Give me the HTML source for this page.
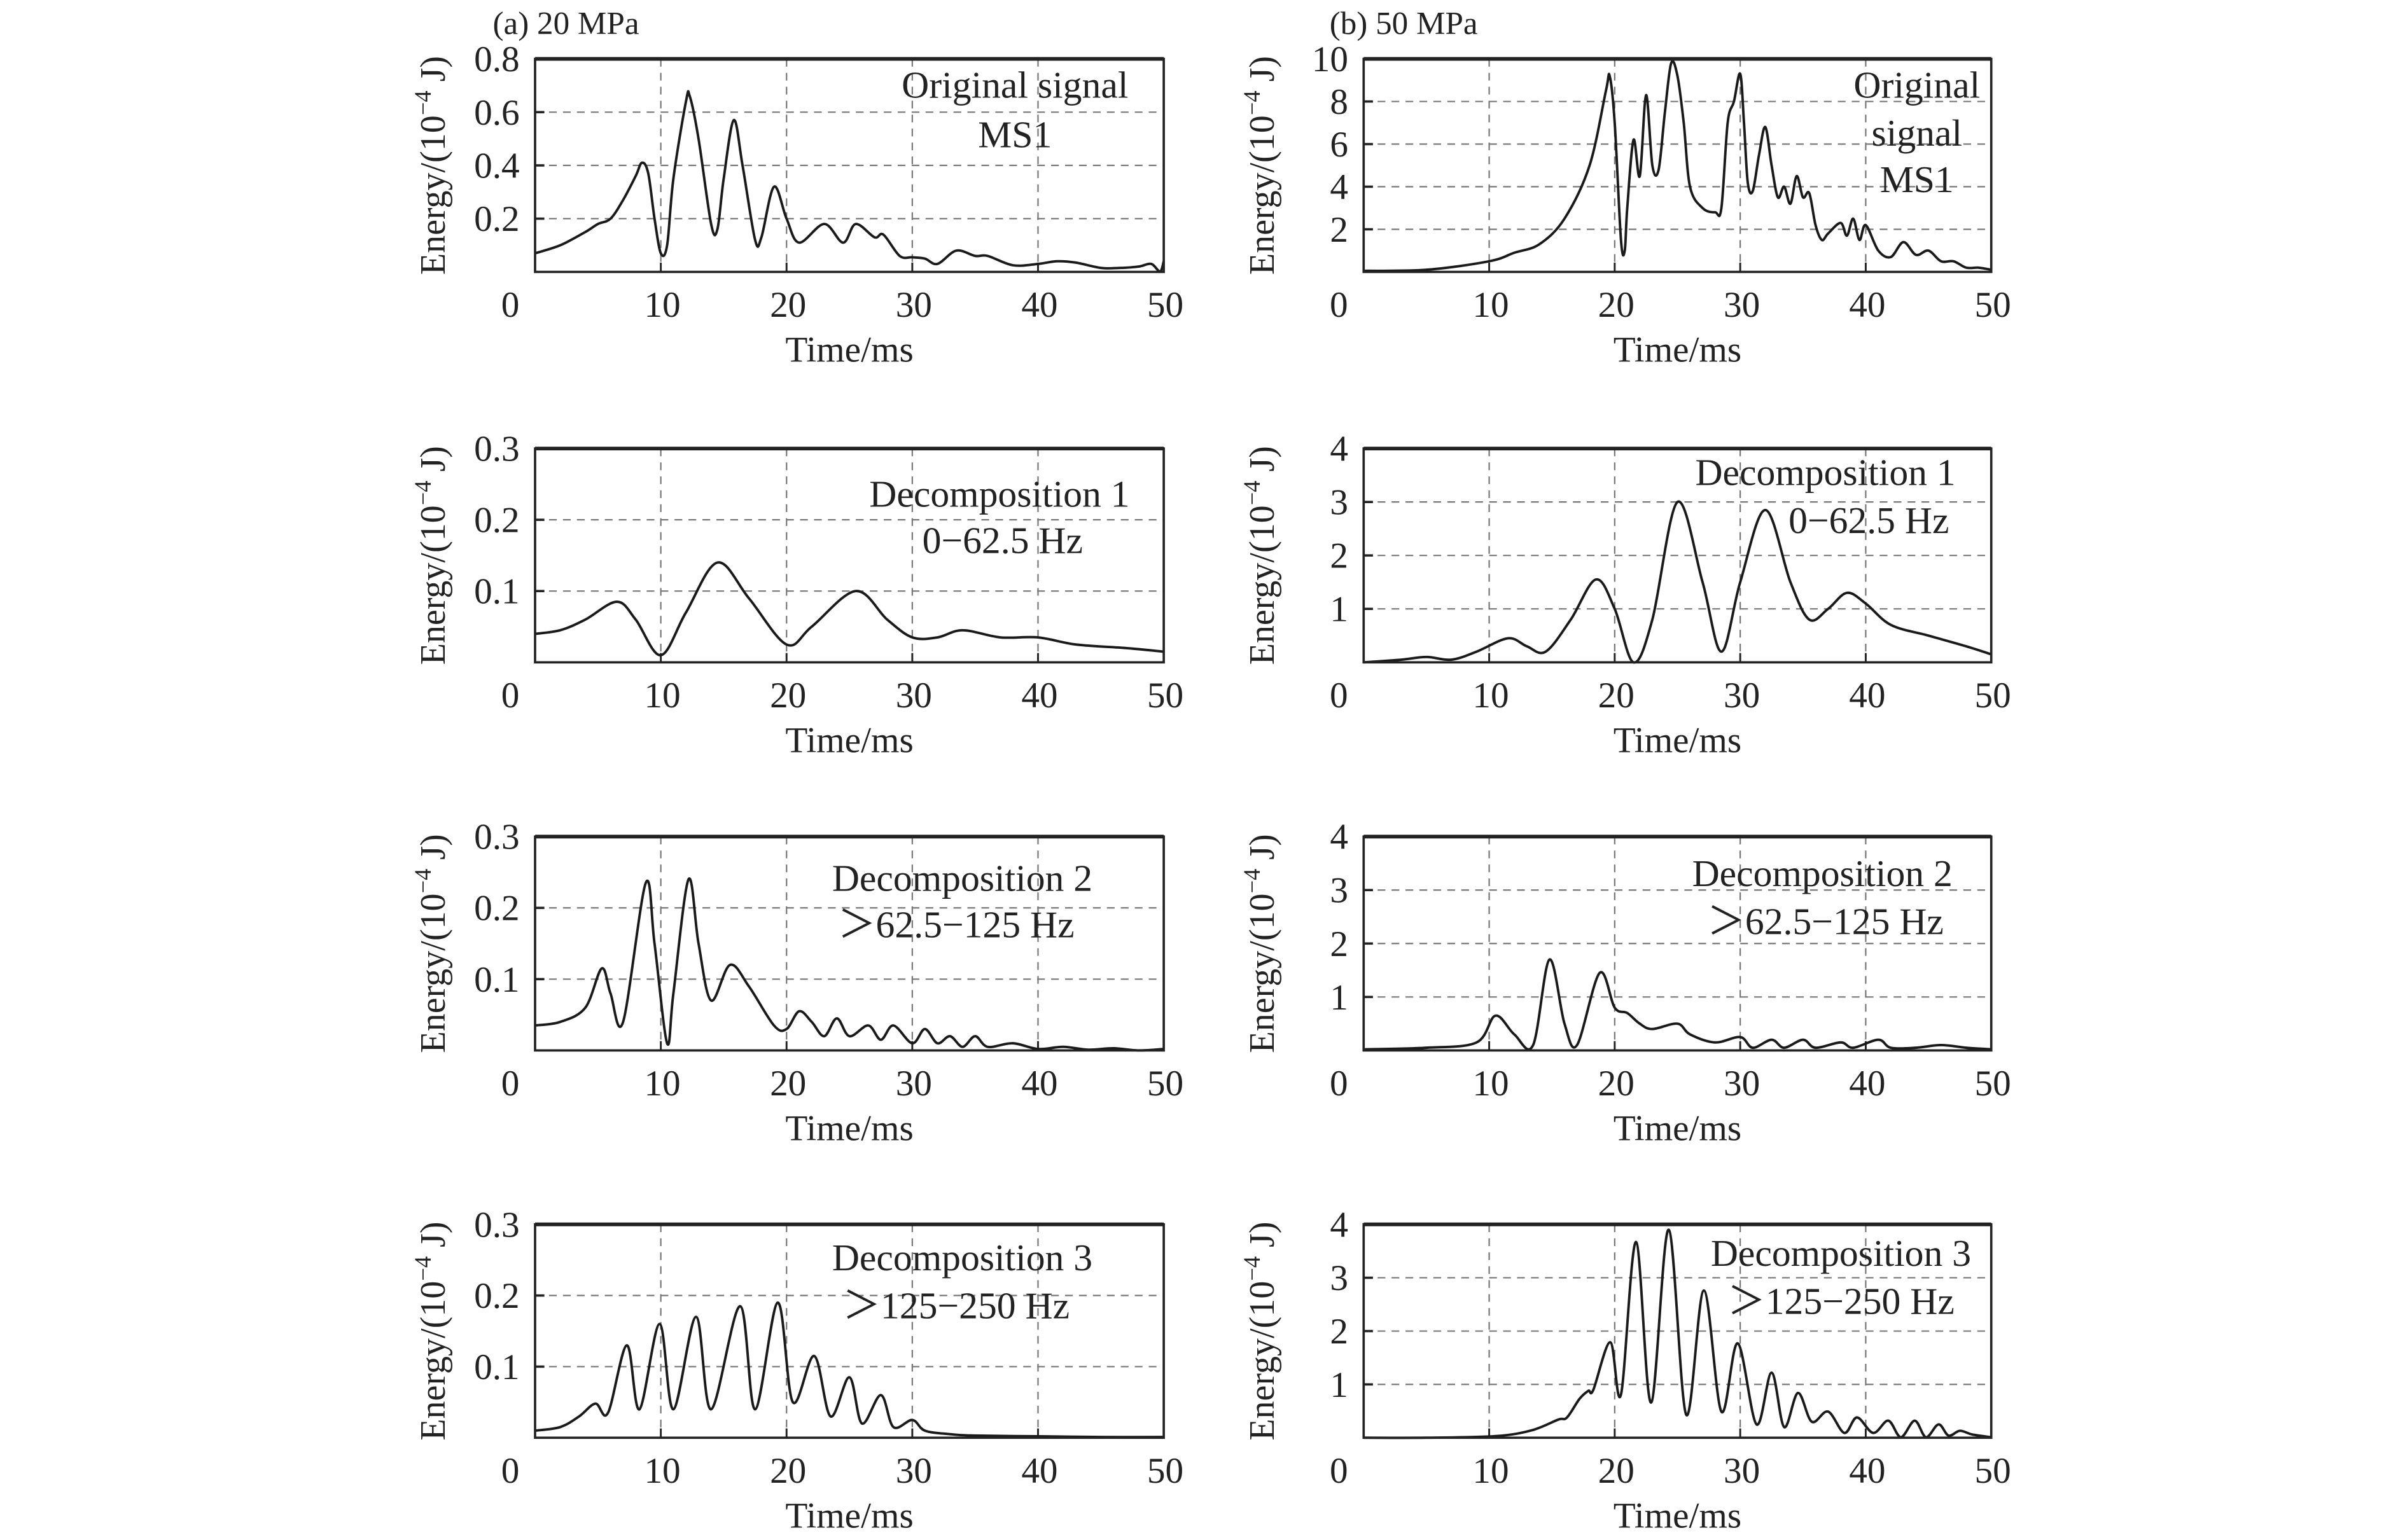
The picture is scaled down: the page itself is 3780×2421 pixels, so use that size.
<!DOCTYPE html>
<html><head><meta charset="utf-8"><style>
html,body{margin:0;padding:0;background:#fff;}
svg{display:block;font-family:"Liberation Serif",serif;}
</style></head><body>
<svg id="fig" width="3780" height="2421" viewBox="0 0 1552 994" xmlns="http://www.w3.org/2000/svg"></svg>
<script>
// ---- data (time in ms, energy in 1e-4 J) ----
const tA1=[0,2,4,5,6,7,8,8.5,9,9.5,10,10.5,11,12,12.3,13,14,14.5,15,15.8,16.5,17.5,18,19,20,21,23,24.5,25.5,27,27.7,29,30,31,32,33.5,35,36,38,40,41.5,43,45,46.5,48,49,49.7,50];
const vA1=[0.07,0.10,0.15,0.18,0.20,0.27,0.36,0.41,0.37,0.2,0.07,0.1,0.35,0.64,0.66,0.5,0.18,0.16,0.35,0.57,0.4,0.12,0.13,0.32,0.2,0.11,0.18,0.11,0.18,0.13,0.14,0.06,0.055,0.05,0.03,0.08,0.06,0.06,0.025,0.03,0.04,0.035,0.015,0.015,0.02,0.03,0.002,0.04];
const tB1=[0,5,10,12,14,16,18,19.3,19.6,20,20.5,20.8,21,21.5,22,22.5,23,23.5,24,24.5,25,25.5,26,27,28,28.5,29,29.5,30,30.3,30.6,31,31.5,32,32.5,33,33.5,34,34.5,35,35.5,36,36.5,37,38,38.5,39,39.5,40,41,42,43,44,45,46,47,48,49,50];
const vB1=[0.05,0.1,0.5,0.9,1.3,2.5,5,8.5,9.2,7,1.5,1,3,6.2,4.5,8.3,5,4.8,7.5,9.8,9.2,7,4,3,2.8,3,7,8,9.3,7,4.2,3.8,5.5,6.8,5,3.5,4,3.2,4.5,3.5,3.7,2.2,1.5,1.8,2.3,1.7,2.5,1.5,2.2,1,0.7,1.4,0.8,1,0.5,0.5,0.2,0.2,0.1];
const tA2=[0,2,4,6.5,8,10,12,14.5,17,20,22,25.5,28,30,32,34,37,40,43,47,50];
const vA2=[0.04,0.045,0.06,0.085,0.06,0.01,0.07,0.14,0.09,0.025,0.05,0.1,0.06,0.035,0.035,0.045,0.035,0.035,0.025,0.02,0.015];
const tB2=[0,3,5,7,9,11.5,13,14.5,16.5,18.5,20,21.5,23,25,27,28.5,30,32,34,35.5,37,38.5,40,42,45,48,50];
const vB2=[0,0.05,0.1,0.05,0.2,0.45,0.3,0.2,0.8,1.55,1,0,0.8,3,1.5,0.2,1.5,2.85,1.5,0.8,1,1.3,1.1,0.7,0.5,0.3,0.15];
const tA3=[0,2,4,5.3,6,7,8.8,9.5,10.5,11,12.2,13,14,15.5,17,19,20,21,22,23,24,25,26.5,27.5,28.5,30,31,32,33,34,35,36,38,40,42,44,46,48,50];
const vA3=[0.035,0.04,0.06,0.115,0.08,0.04,0.235,0.15,0.01,0.08,0.24,0.15,0.07,0.12,0.09,0.035,0.03,0.055,0.04,0.02,0.045,0.02,0.035,0.015,0.035,0.01,0.03,0.01,0.02,0.005,0.02,0.005,0.01,0.002,0.005,0.001,0.003,0,0.002];
const tB3=[0,5,9,10.5,12,13.5,14.8,16,17,18.8,20,21,22,23,25,26,28,30,31,32.5,33.5,35,36,38,39,41,42,44,46,48,50];
const vB3=[0.02,0.05,0.15,0.65,0.3,0.1,1.7,0.5,0.1,1.45,0.8,0.7,0.5,0.4,0.5,0.3,0.15,0.25,0.05,0.2,0.05,0.2,0.05,0.15,0.05,0.2,0.05,0.05,0.1,0.05,0.02];
const tA4=[0,2,3.5,4.8,5.8,7.3,8.3,9.9,11,12.8,14,16.3,17.5,19.3,20.5,22.2,23.5,25,26,27.5,28.5,30,31,33,35,40,45,50];
const vA4=[0.01,0.015,0.03,0.048,0.035,0.13,0.04,0.16,0.04,0.17,0.04,0.185,0.04,0.19,0.05,0.115,0.03,0.085,0.02,0.06,0.015,0.025,0.01,0.005,0.003,0.002,0.001,0.001];
const tB4=[0,5,10.5,13.4,15.5,16.2,17.2,17.9,18.3,19.65,20.5,21.7,22.9,24.3,25.7,27.1,28.5,29.8,31.3,32.5,33.5,34.6,35.7,37,38.3,39.3,40.6,41.8,42.8,43.9,44.8,45.8,46.6,47.5,48.5,50];
const vB4=[0,0,0.03,0.14,0.34,0.38,0.73,0.88,0.9,1.79,0.81,3.67,0.66,3.9,0.43,2.76,0.49,1.77,0.25,1.22,0.2,0.84,0.3,0.49,0.09,0.38,0.09,0.32,0.01,0.32,0.01,0.25,0.04,0.13,0.06,0.01];
const xTicks=[0,10,20,30,40,50];
const yTicksA1=[0.2,0.4,0.6,0.8], yLabA1=["0.2","0.4","0.6","0.8"];
const yTicksA=[0.1,0.2,0.3], yLabA=["0.1","0.2","0.3"];
const yTicksB1=[2,4,6,8,10], yLabB1=["2","4","6","8","10"];
const yTicksB=[1,2,3,4], yLabB=["1","2","3","4"];

const NS="http://www.w3.org/2000/svg";
const svg=document.getElementById('fig');
function mk(tag,attrs,parent){const e=document.createElementNS(NS,tag);for(const k in attrs)e.setAttribute(k,attrs[k]);(parent||svg).appendChild(e);return e;}

const cols=[{x0:345.3,x1:751,ylab:287,id:'a'},{x0:880,x1:1285,ylab:822,id:'b'}];
const rows=[[38,175.5],[289.5,427.5],[540,678],[790.3,928]];
const panels=[
 {c:0,r:0,t:tA1,v:vA1,ymax:0.8,yt:yTicksA1,yl:yLabA1,ann:[["Original signal",655,63],["MS1",655,95]]},
 {c:1,r:0,t:tB1,v:vB1,ymax:10,yt:yTicksB1,yl:yLabB1,ann:[["Original",1237,63],["signal",1237,94],["MS1",1237,124]]},
 {c:0,r:1,t:tA2,v:vA2,ymax:0.3,yt:yTicksA,yl:yLabA,ann:[["Decomposition 1",645,327],["0−62.5 Hz",647,357]]},
 {c:1,r:1,t:tB2,v:vB2,ymax:4,yt:yTicksB,yl:yLabB,ann:[["Decomposition 1",1178,313],["0−62.5 Hz",1206,344]]},
 {c:0,r:2,t:tA3,v:vA3,ymax:0.3,yt:yTicksA,yl:yLabA,ann:[["Decomposition 2",621,575],["＞62.5−125 Hz",617,605]]},
 {c:1,r:2,t:tB3,v:vB3,ymax:4,yt:yTicksB,yl:yLabB,ann:[["Decomposition 2",1176,572],["＞62.5−125 Hz",1178,603]]},
 {c:0,r:3,t:tA4,v:vA4,ymax:0.3,yt:yTicksA,yl:yLabA,ann:[["Decomposition 3",621,820],["＞125−250 Hz",617,851]]},
 {c:1,r:3,t:tB4,v:vB4,ymax:4,yt:yTicksB,yl:yLabB,ann:[["Decomposition 3",1188,817],["＞125−250 Hz",1188,848]]}
];

const t1=mk('text',{x:318,y:22,'font-size':21,fill:'#222'});t1.textContent='(a) 20 MPa';


const t2=mk('text',{x:858,y:22,'font-size':21,fill:'#222'});t2.textContent='(b) 50 MPa';



function smooth(pts){
  let d='M'+pts[0][0].toFixed(2)+','+pts[0][1].toFixed(2);
  for(let i=0;i<pts.length-1;i++){
    const p0=pts[Math.max(0,i-1)],p1=pts[i],p2=pts[i+1],p3=pts[Math.min(pts.length-1,i+2)];
    const c1=[p1[0]+(p2[0]-p0[0])/6,p1[1]+(p2[1]-p0[1])/6];
    const c2=[p2[0]-(p3[0]-p1[0])/6,p2[1]-(p3[1]-p1[1])/6];
    d+='C'+c1[0].toFixed(2)+','+c1[1].toFixed(2)+' '+c2[0].toFixed(2)+','+c2[1].toFixed(2)+' '+p2[0].toFixed(2)+','+p2[1].toFixed(2);
  }
  return d;
}

panels.forEach((p,idx)=>{
  const col=cols[p.c],[y0,y1]=rows[p.r],x0=col.x0,x1=col.x1;
  const g=mk('g',{});
  
  
  const X=t=>x0+(x1-x0)*t/50, Y=v=>y1-(y1-y0)*v/p.ymax;
  xTicks.slice(1,-1).forEach(t=>{
    const l=mk('line',{x1:X(t),x2:X(t),y1:y0,y2:y1,stroke:'#777','stroke-width':0.9,'stroke-dasharray':'5,4'},g);
    
    
    mk('line',{x1:X(t),x2:X(t),y1:y1,y2:y1-6,stroke:'#222','stroke-width':1.2},g);
  });
  p.yt.forEach((v,i)=>{
    if(v<p.ymax){
      const l=mk('line',{x1:x0,x2:x1,y1:Y(v),y2:Y(v),stroke:'#777','stroke-width':0.9,'stroke-dasharray':'5,4'},g);
      
      
      mk('line',{x1:x0,x2:x0+6,y1:Y(v),y2:Y(v),stroke:'#222','stroke-width':1.5},g);
    }
    const tl=mk('text',{x:x0-10,y:Y(v)+8,'font-size':23.5,'text-anchor':'end',fill:'#222'},g);
    tl.textContent=p.yl[i];
    
    
  });
  xTicks.forEach(t=>{
    const xl=mk('text',{x:t===0?X(t)-16:X(t)+1,y:y1+29,'font-size':23.5,'text-anchor':'middle',fill:'#222'},g);
    xl.textContent=String(t);
    
    
  });
  const xt=mk('text',{x:(x0+x1)/2,y:y1+58,'font-size':23.5,'text-anchor':'middle',fill:'#222'},g);
  xt.textContent='Time/ms';
  
  
  const yc=(y0+y1)/2;
  const yt=mk('text',{x:col.ylab,y:yc,'font-size':23,'text-anchor':'middle',fill:'#222',transform:'rotate(-90 '+col.ylab+' '+yc+')'},g);
  yt.innerHTML='Energy/(10<tspan dy="-9" font-size="15">−4</tspan><tspan dy="9"> J)</tspan>';
  
  
  const pts=p.t.map((t,i)=>[X(t),Y(p.v[i])]);
  const path=mk('path',{d:smooth(pts),fill:'none',stroke:'#1a1a1a','stroke-width':1.6,'stroke-linejoin':'round'},g);
  
  
  const fr=mk('rect',{x:x0,y:y0,width:x1-x0,height:y1-y0,fill:'none',stroke:'#222','stroke-width':1.5},g);
  
  
  mk('line',{x1:x0,x2:x1,y1:y0,y2:y0,stroke:'#222','stroke-width':2.4},g);
  p.ann.forEach(a=>{
    const at=mk('text',{x:a[1],y:a[2],'font-size':24.5,'text-anchor':'middle',fill:'#222'},g);
    at.textContent=a[0];
    
    
  });
});
</script>
</body></html>
